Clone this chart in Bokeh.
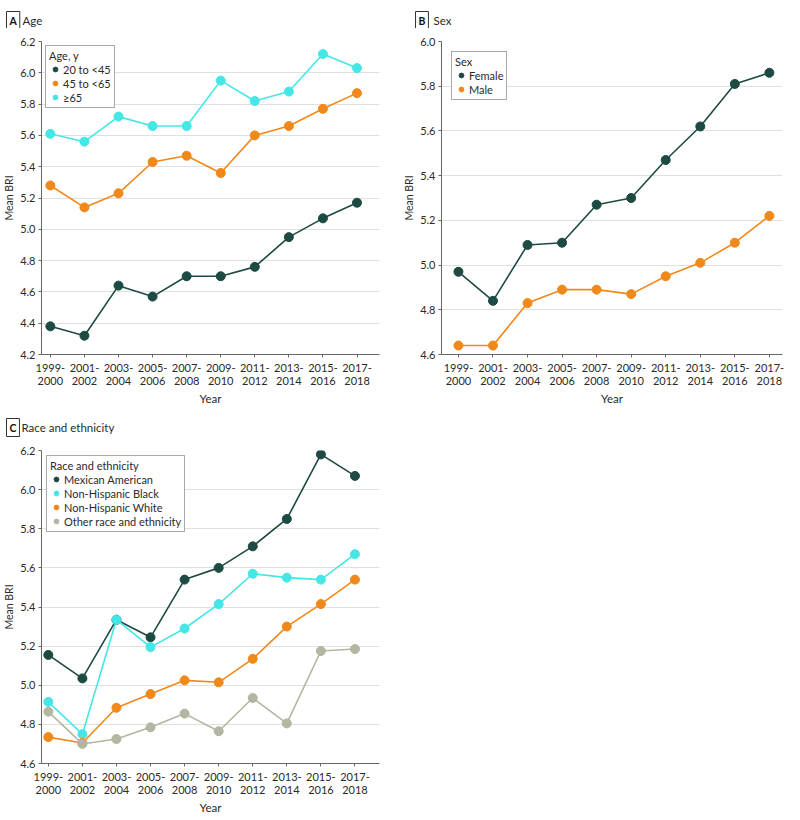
from bokeh.plotting import figure
from bokeh.models import Range1d, FixedTicker, Label, Legend
from bokeh.layouts import column, row
from bokeh.embed import file_html
from bokeh.resources import INLINE

periods = ["1999-2000", "2001-2002", "2003-2004", "2005-2006", "2007-2008",
           "2009-2010", "2011-2012", "2013-2014", "2015-2016", "2017-2018"]

# Panel A: Age
age_20_45 = [4.38, 4.32, 4.64, 4.57, 4.70, 4.70, 4.76, 4.95, 5.07, 5.17]
age_45_65 = [5.28, 5.14, 5.23, 5.43, 5.47, 5.36, 5.60, 5.66, 5.77, 5.87]
age_65 = [5.61, 5.56, 5.72, 5.66, 5.66, 5.95, 5.82, 5.88, 6.12, 6.03]

# Panel B: Sex
female = [4.97, 4.84, 5.09, 5.10, 5.27, 5.30, 5.47, 5.62, 5.81, 5.86]
male = [4.64, 4.64, 4.83, 4.89, 4.89, 4.87, 4.95, 5.01, 5.10, 5.22]

# Panel C: Race and ethnicity
mexican_american = [5.155, 5.035, 5.335, 5.245, 5.54, 5.60, 5.71, 5.85, 6.18, 6.07]
nh_black = [4.915, 4.75, 5.335, 5.195, 5.29, 5.415, 5.57, 5.55, 5.54, 5.67]
nh_white = [4.735, 4.705, 4.885, 4.955, 5.025, 5.015, 5.135, 5.30, 5.415, 5.54]
other_race = [4.865, 4.70, 4.725, 4.785, 4.855, 4.765, 4.935, 4.805, 5.175, 5.185]

DARK = "#1d4a43"
ORANGE = "#f0891a"
CYAN = "#45e6e6"
GRAY = "#b5b6a1"
FONT = "Lato"
TXT = "#2a2a2a"

xs = list(range(len(periods)))
tick_labels = {i: p.replace("-", "-\n") for i, p in enumerate(periods)}


def make_header(width, height, mid_from_top, headings):
    h = figure(width=width, height=height, output_backend="svg", toolbar_location=None,
               x_range=Range1d(0, width), y_range=Range1d(0, height), min_border=0,
               x_axis_location=None, y_axis_location=None)
    h.grid.grid_line_color = None
    h.outline_line_color = None
    y = height - mid_from_top
    for letter, title, box_x, title_x in headings:
        h.add_layout(Label(x=box_x, y=y, text=letter, text_font=FONT, text_font_size="10.5px",
                           text_font_style="bold", text_color="#111111", text_baseline="middle",
                           border_line_color="#333333", border_line_width=1, padding=3,
                           background_fill_color="white"))
        h.add_layout(Label(x=title_x, y=y, text=title, text_font=FONT, text_font_size="11.5px",
                           text_color=TXT, text_baseline="middle"))
    return h


def make_panel(width, height, borders, xrange_, yrange, yticks, series, legend_title, legend_margin):
    bl, br, bt, bb = borders
    p = figure(width=width, height=height, output_backend="svg", toolbar_location=None,
               x_range=Range1d(*xrange_), y_range=Range1d(*yrange),
               min_border_left=bl, min_border_right=br, min_border_top=bt, min_border_bottom=bb)
    p.outline_line_color = None
    p.xgrid.grid_line_color = None
    p.ygrid.grid_line_color = "#e0e0e0"
    p.ygrid.grid_line_width = 1
    p.xaxis.ticker = FixedTicker(ticks=xs)
    p.xaxis.major_label_overrides = tick_labels
    p.yaxis.ticker = FixedTicker(ticks=yticks)
    p.yaxis.major_label_overrides = {t: f"{t:.1f}" for t in yticks}
    for ax in (p.xaxis[0], p.yaxis[0]):
        ax.axis_line_color = "#666666"
        ax.major_tick_line_color = "#666666"
        ax.major_tick_in = 0
        ax.major_tick_out = 3
        ax.minor_tick_line_color = None
        ax.major_label_text_font = FONT
        ax.major_label_text_font_size = "11px"
        ax.major_label_text_color = TXT
        ax.major_label_text_line_height = 1.0
        ax.major_label_standoff = 3
        ax.axis_label_text_font = FONT
        ax.axis_label_text_font_style = "normal"
        ax.axis_label_text_color = TXT
    p.xaxis.axis_label = "Year"
    p.xaxis.axis_label_text_font_size = "11.5px"
    p.xaxis.axis_label_standoff = 2
    p.yaxis.axis_label = "Mean BRI"
    p.yaxis.axis_label_text_font_size = "10.5px"
    p.yaxis.axis_label_standoff = 2

    items = []
    for name, vals, color in series:
        p.line(xs, vals, line_color=color, line_width=1.6)
        r = p.scatter(xs, vals, size=9, fill_color=color, line_color=color)
        items.append((name, [r]))
    leg = Legend(items=items, location="top_left", title=legend_title)
    leg.title_text_font = FONT
    leg.title_text_font_size = "11px"
    leg.title_text_font_style = "normal"
    leg.title_text_color = TXT
    leg.title_standoff = 0
    leg.label_text_font = FONT
    leg.label_text_font_size = "11px"
    leg.label_text_color = TXT
    leg.label_height = 13
    leg.glyph_height = 14
    leg.glyph_width = 12
    leg.label_standoff = 2
    leg.spacing = 0
    leg.padding = 3
    leg.margin = legend_margin
    leg.border_line_color = "#555555"
    leg.border_line_width = 1
    leg.background_fill_alpha = 1
    p.add_layout(leg)
    return p


hTop = make_header(784, 28, 20, [("A", "Age", 6, 22), ("B", "Sex", 415, 433)])
pA = make_panel(396, 387, (35, 17, 13, 61), (-0.26, 9.66), (4.2, 6.2),
                [4.2, 4.4, 4.6, 4.8, 5.0, 5.2, 5.4, 5.6, 5.8, 6.0, 6.2],
                [("20 to <45", age_20_45, DARK), ("45 to <65", age_45_65, ORANGE), ("\u226565", age_65, CYAN)],
                "Age, y", 4)
pB = make_panel(388, 387, (45, 2, 13, 61), (-0.49, 9.38), (4.6, 6.0),
                [4.6, 4.8, 5.0, 5.2, 5.4, 5.6, 5.8, 6.0],
                [("Female", female, DARK), ("Male", male, ORANGE)],
                "Sex", 10)
hC = make_header(784, 26, 12, [("C", "Race and ethnicity", 6, 21)])
pC = make_panel(396, 375, (35, 17, 9, 46), (-0.2, 9.72), (4.6, 6.2),
                [4.6, 4.8, 5.0, 5.2, 5.4, 5.6, 5.8, 6.0, 6.2],
                [("Mexican American", mexican_american, DARK), ("Non-Hispanic Black", nh_black, CYAN),
                 ("Non-Hispanic White", nh_white, ORANGE), ("Other race and ethnicity", other_race, GRAY)],
                "Race and ethnicity", 5)

layout = column(hTop, row(pA, pB), hC, row(pC))
open("out.html", "w").write(file_html(layout, INLINE))
